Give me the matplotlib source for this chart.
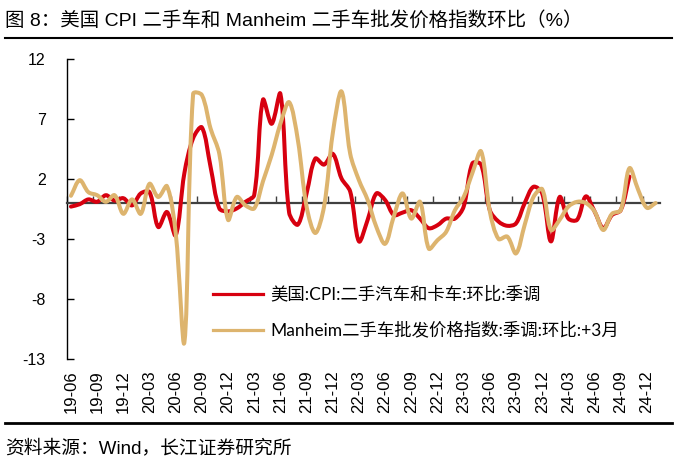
import numpy as np
import matplotlib
matplotlib.use("Agg")
import matplotlib.pyplot as plt
from matplotlib.path import Path
from matplotlib.patches import PathPatch
from matplotlib.lines import Line2D

# ---------------- data ----------------
# monthly categories 2019-06 ... 2025-01 (68 months); labels every 3 months
tick_labels = ['19-06', '19-09', '19-12', '20-03', '20-06', '20-09', '20-12',
               '21-03', '21-06', '21-09', '21-12', '22-03', '22-06', '22-09',
               '22-12', '23-03', '23-06', '23-09', '23-12', '24-03', '24-06',
               '24-09', '24-12']
n_months = 68

# 美国:CPI:二手汽车和卡车:环比:季调 (2019-06 ... 2024-10)
cpi_used = [-0.3, -0.1, 0.3, 0.1, 0.65, 0.2, 0.4, -0.2, 0.8, 0.9,
            -2.0, -0.75, -2.7, 2.5, 5.4, 6.3, 3.0, -0.45, -0.7, -0.45,
            0.1, 0.67, 8.6, 6.6, 9.1, -0.8, -1.8, 0.8, 3.7, 3.2,
            4.1, 2.05, 0.95, -3.2, -1.4, 0.8, 0.25, -1.0, -0.8, -0.6,
            -1.3, -2.1, -1.85, -1.3, -1.3, -0.3, 3.3, 3.2, -0.6, -1.55,
            -1.9, -1.7, 0.0, 1.35, 0.8, -3.2, 0.5, -1.3, -1.4, 0.55,
            -0.7, -2.1, -1.0, -0.6, 2.2]

# Manheim二手车批发价格指数:季调:环比:+3月 (2019-06 ... 2025-01)
manheim = [0.6, 1.9, 0.9, 0.65, 0.1, 0.65, -0.9, 0.3, -0.9, 1.6,
           0.5, 1.4, -2.5, -11.6, 9.1, 9.0, 6.2, 4.1, -1.4, 0.5,
           -0.2, -0.45, 1.8, 4.0, 6.6, 8.4, 5.25, -0.3, -2.5, -0.3,
           5.8, 9.3, 4.1, 1.9, 0.25, -2.0, -3.4, -1.1, 0.8, -1.3,
           0.1, -3.8, -3.1, -2.4, -0.6, 0.5, 2.5, 4.3, -0.7, -3.0,
           -2.8, -4.2, -1.8, 0.5, 1.15, -2.25, -1.4, -0.3, 0.1, 0.0,
           -0.7, -2.25, -0.9, -0.6, 2.9, 1.1, -0.4, 0.0]

series_names = ['美国:CPI:二手汽车和卡车:环比:季调',
                'Manheim二手车批发价格指数:季调:环比:+3月']
y_ticks = [-13, -8, -3, 2, 7, 12]

RED = '#D7000F'
TAN = '#DDB46E'
W, H = 691, 473

LATIN_CJK = ['Liberation Sans', 'Noto Sans CJK SC', 'DejaVu Sans']
LEGEND_FONT = ['Lato', 'Noto Sans CJK SC', 'DejaVu Sans']

left_px, right_px, top_px, bot_px = 66.6, 660, 59, 359
SX = (right_px - left_px) / n_months      # px per month
SY = (bot_px - top_px) / 25.0             # px per unit


def smooth_path(xs, ys):
    """Excel-like smooth line: cubic Bezier segments whose control points
    follow neighbouring points, scaled by on-screen chord lengths."""
    raw = np.column_stack([xs, ys]).astype(float)
    sc = np.array([SX, SY])
    pts = raw * sc
    n = len(pts)
    ext = np.vstack([pts[0], pts, pts[-1]])
    d = np.linalg.norm(np.diff(pts, axis=0), axis=1)
    d = np.concatenate([[0.0], d, [0.0]])  # d[k] = |p_k - p_{k-1}| (shifted)
    verts = [pts[0]]
    codes = [Path.MOVETO]
    for i in range(n - 1):
        p0, p1, p2, p3 = ext[i], ext[i + 1], ext[i + 2], ext[i + 3]
        d01, d12, d23 = d[i], d[i + 1], d[i + 2]
        r1 = d12 / (d01 + d12) if d01 + d12 > 0 else 0.5
        r2 = d12 / (d12 + d23) if d12 + d23 > 0 else 0.5
        c1 = p1 + (p2 - p0) * r1 / 3.0
        c2 = p2 - (p3 - p1) * r2 / 3.0
        verts += [c1, c2, p2]
        codes += [Path.CURVE4] * 3
    return Path(np.array(verts) / sc, codes)


fig = plt.figure(figsize=(W / 100, H / 100), dpi=100)
ax = fig.add_axes([left_px / W, 1 - bot_px / H,
                   (right_px - left_px) / W, (bot_px - top_px) / H])

x_idx = np.arange(n_months)
for vals, col in [(cpi_used, RED), (manheim, TAN)]:
    p = smooth_path(x_idx[:len(vals)], vals)
    ax.add_patch(PathPatch(p, facecolor='none', edgecolor=col, lw=2.9,
                           capstyle='round', joinstyle='round', zorder=3))

ax.set_xlim(-0.5, n_months - 0.5)
ax.set_ylim(-13, 12)

# spines
for s in ['top', 'right']:
    ax.spines[s].set_visible(False)
ax.spines['left'].set_color('black')
ax.spines['left'].set_linewidth(1.0)
ax.spines['bottom'].set_position(('data', 0))
ax.spines['bottom'].set_color('#404040')
ax.spines['bottom'].set_linewidth(1.6)

# y axis
ax.set_yticks(y_ticks)
ax.set_yticklabels([str(v) for v in y_ticks], family=LATIN_CJK, fontsize=11.5)
ax.tick_params(axis='y', direction='in', length=5, width=1.0, pad=15,
               colors='black')

# tick marks on the zero line at category boundaries
ax.set_xticks(np.arange(-0.5, n_months - 0.5, 3))
ax.tick_params(axis='x', direction='in', length=5, width=1.0,
               color='#404040', labelbottom=False)

# tick labels at bottom
sec = ax.secondary_xaxis(0.0)
sec.set_xticks(np.arange(0, n_months, 3))
sec.set_xticklabels(tick_labels, rotation=90, family=LATIN_CJK, fontsize=12)
sec.tick_params(axis='x', length=0, pad=8)
sec.spines['bottom'].set_visible(False)

# legend
handles = [Line2D([], [], color=RED, lw=2.3),
           Line2D([], [], color=TAN, lw=2.3)]
ax.legend(handles, series_names, loc='upper left',
          bbox_to_anchor=(213 / W, 1 - 286 / H),
          bbox_transform=fig.transFigure, frameon=False,
          prop={'family': LEGEND_FONT, 'size': 12.5},
          handlelength=2.9, handletextpad=0.4, labelspacing=1.1,
          borderpad=0, borderaxespad=0)

# title, rules, source
fig.text(5 / W, 1 - 20 / H, '图 8：美国 CPI 二手车和 Manheim 二手车批发价格指数环比（%）',
         ha='left', va='center', fontsize=14, family=LATIN_CJK)
fig.add_artist(Line2D([5 / W, 672 / W], [1 - 38 / H] * 2, color='black',
                      lw=1.5, transform=fig.transFigure))
fig.add_artist(Line2D([5 / W, 672 / W], [1 - 423 / H] * 2, color='black',
                      lw=2.0, transform=fig.transFigure))
fig.text(5 / W, 1 - 448 / H, '资料来源：Wind，长江证券研究所',
         ha='left', va='center', fontsize=13.5, family=LATIN_CJK)

fig.savefig('out.png', dpi=100)
